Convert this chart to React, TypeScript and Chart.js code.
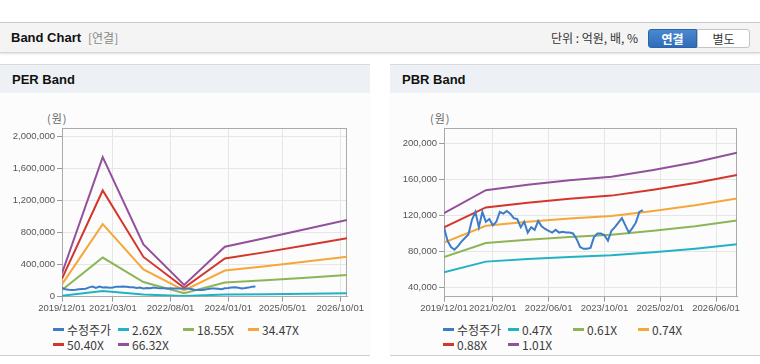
import React, { useEffect, useRef } from 'react';
import { Chart, registerables } from 'chart.js';
Chart.register(...registerables);

// ---- data ----
const BAND_DATES = ['2019/12', '2020/12', '2021/12', '2022/12', '2023/12', '2024/12', '2025/12', '2026/12'];
const PRICE_START = '2019/12';
const PRICE = [
  107000, 92000, 85000, 82000, 86000, 91000, 95000, 99000, 115000, 124000,
  107000, 124000, 113000, 116000, 109000, 113000, 124000, 122000, 125000, 122000,
  117000, 116000, 107000, 113000, 101000, 107000, 104000, 114000, 108000, 105000,
  103000, 101000, 104000, 101000, 102000, 101000, 101000, 100000, 94000, 85000,
  83000, 83000, 84000, 96000, 100000, 100000, 98000, 92000, 103000, 107000,
  112000, 117000, 109000, 101000, 106000, 112000, 124000, 126000,
];

const PER_LABELS = ['수정주가', '2.62X', '18.55X', '34.47X', '50.40X', '66.32X'];
const PER_262 = [12000, 69000, 26000, 6000, 25000, 29000, 35000, 42000];
const PER_1855 = [82000, 486000, 182000, 41000, 176000, 204000, 236000, 268000];
const PER_3447 = [152000, 903000, 338000, 76000, 325000, 379000, 438000, 497000];
const PER_5040 = [224000, 1322000, 494000, 111000, 474000, 554000, 640000, 726000];
const PER_6632 = [292000, 1738000, 650000, 146000, 622000, 730000, 842000, 955000];
const PER_X_TICKS = ['2019/12/01', '2021/03/01', '2022/08/01', '2024/01/01', '2025/05/01', '2026/10/01'];
const PER_Y_TICKS = [0, 400000, 800000, 1200000, 1600000, 2000000];

const PBR_LABELS = ['수정주가', '0.47X', '0.61X', '0.74X', '0.88X', '1.01X'];
const PBR_047 = [57000, 68800, 71600, 73900, 75800, 79300, 83200, 88100];
const PBR_061 = [74000, 89400, 93000, 96000, 98500, 103000, 108100, 114500];
const PBR_074 = [89800, 108500, 112900, 116500, 119500, 125000, 131200, 138900];
const PBR_088 = [106700, 128900, 134100, 138500, 142000, 148500, 155900, 165000];
const PBR_101 = [122500, 148000, 154000, 159000, 163000, 170500, 179000, 189500];
const PBR_X_TICKS = ['2019/12/01', '2021/02/01', '2022/06/01', '2023/10/01', '2025/02/01', '2026/06/01'];
const PBR_Y_TICKS = [40000, 80000, 120000, 160000, 200000];

const COLORS = ['#3d7cc9', '#21b3c3', '#8db556', '#f5a73a', '#d4362c', '#93509c'];

const monthIndex = (s: string) => {
  const p = s.split('/').map(Number);
  return (p[0] - 2019) * 12 + p[1] - 12;
};

const FONT = '"Liberation Sans", Arial, sans-serif';
const KFONT = '"Noto Sans CJK KR", "Liberation Sans", sans-serif';

const framePlugin = {
  id: 'frame',
  beforeDatasetsDraw(chart: any) {
    const { ctx, chartArea } = chart;
    const l = Math.round(chartArea.left) + 0.5;
    const t = Math.round(chartArea.top) + 0.5;
    const r = Math.round(chartArea.right) - 0.5;
    const b = Math.round(chartArea.bottom) - 0.5;
    ctx.save();
    ctx.strokeStyle = '#aaaaaa';
    ctx.lineWidth = 1;
    ctx.strokeRect(l, t, r - l, b - t);
    ctx.restore();
  },
};

type BandProps = {
  bands: number[][];
  yTicks: number[];
  yMin: number;
  yMax: number;
  xTicks: string[];
  yWidth: number;
};

function BandChart({ bands, yTicks, yMin, yMax, xTicks, yWidth }: BandProps) {
  const ref = useRef<HTMLCanvasElement>(null);
  useEffect(() => {
    if (!ref.current) return;
    const priceStart = monthIndex(PRICE_START);
    const bandX = BAND_DATES.map(monthIndex);
    const xVals = xTicks.map(monthIndex);
    const datasets: any[] = [
      {
        data: PRICE.map((v, i) => ({ x: priceStart + i, y: v })),
        borderColor: COLORS[0],
      },
      ...bands.map((arr, k) => ({
        data: arr.map((v, i) => ({ x: bandX[i], y: v })),
        borderColor: COLORS[k + 1],
      })),
    ].map((d) => ({ ...d, borderWidth: 2, pointRadius: 0, tension: 0, fill: false }));

    const chart = new Chart(ref.current, {
      type: 'line',
      data: { datasets },
      plugins: [framePlugin],
      options: {
        animation: false,
        responsive: false,
        maintainAspectRatio: false,
        events: [],
        layout: { padding: { top: 8, right: 23, bottom: 5, left: 0 } },
        plugins: { legend: { display: false }, tooltip: { enabled: false } },
        scales: {
          x: {
            type: 'linear',
            min: 0,
            max: 84,
            afterBuildTicks: (s: any) => {
              s.ticks = xVals.map((v) => ({ value: v }));
            },
            ticks: {
              autoSkip: false,
              maxRotation: 0,
              padding: 1,
              color: '#555',
              font: { family: FONT, size: 9.5 },
              callback: (v: any) => {
                const i = xVals.indexOf(Number(v));
                return i >= 0 ? xTicks[i] : '';
              },
            },
            grid: { color: '#e6e6e6', tickLength: 5, tickColor: '#9a9a9a' },
            border: { color: '#aaaaaa' },
          },
          y: {
            type: 'linear',
            min: yMin,
            max: yMax,
            afterBuildTicks: (s: any) => {
              s.ticks = yTicks.map((v) => ({ value: v }));
            },
            afterFit: (s: any) => {
              s.width = yWidth;
            },
            ticks: {
              padding: 2,
              color: '#555',
              font: { family: FONT, size: 9.5 },
              callback: (v: any) => Number(v).toLocaleString('en-US'),
            },
            grid: { color: '#e6e6e6', tickLength: 5, tickColor: '#9a9a9a' },
            border: { color: '#aaaaaa' },
          },
        },
      } as any,
    });
    return () => chart.destroy();
  }, []);
  return <canvas ref={ref} width={370} height={200} style={{ width: 370, height: 200, display: 'block' }} />;
}

function Legend({ labels }: { labels: string[] }) {
  return (
    <div style={{ position: 'relative', width: 300, height: 34 }}>
      {labels.map((lab, i) => {
        const row = Math.floor(i / 4);
        const col = i % 4;
        return (
          <div
            key={lab}
            style={{
              position: 'absolute',
              left: col * 65,
              top: row * 15,
              height: 15,
              display: 'flex',
              alignItems: 'center',
              whiteSpace: 'nowrap',
            }}
          >
            <span style={{ display: 'inline-block', width: 11, height: 3, background: COLORS[i], marginRight: 3 }} />
            <span style={{ fontFamily: KFONT, fontSize: 12, color: '#3a3a3a', lineHeight: '15px' }}>{lab}</span>
          </div>
        );
      })}
    </div>
  );
}

function Panel({ left, title, children }: { left: number; title: string; children: React.ReactNode }) {
  return (
    <div
      style={{
        position: 'absolute',
        left,
        top: 64,
        width: 370,
        height: 290,
        background: '#fcfcfc',
        borderTop: '1px solid #d9d9d9',
        borderBottom: '1px solid #cfcfcf',
      }}
    >
      <div
        style={{
          height: 28,
          background: '#edf1f6',
          fontFamily: FONT,
          fontWeight: 'bold',
          fontSize: 13,
          color: '#111',
          lineHeight: '30px',
          paddingLeft: 12,
        }}
      >
        {title}
      </div>
      {children}
    </div>
  );
}

export default function App() {
  return (
    <div
      style={{
        position: 'absolute',
        left: 0,
        top: 0,
        width: 760,
        height: 364,
        background: '#ffffff',
        overflow: 'hidden',
        fontFamily: FONT,
      }}
    >
      {/* header bar */}
      <div
        style={{
          position: 'absolute',
          left: 0,
          top: 22,
          width: 760,
          height: 29,
          background: '#f4f4f4',
          borderTop: '1px solid #c9c9c9',
          borderBottom: '1px solid #d6d6d6',
          boxShadow: '0 1px 2px rgba(0,0,0,0.12)',
        }}
      >
        <span style={{ position: 'absolute', left: 11, top: 7, fontWeight: 'bold', fontSize: 13, color: '#111' }}>
          Band Chart
        </span>
        <span style={{ position: 'absolute', left: 88, top: 7, fontSize: 12, color: '#888', fontFamily: KFONT, lineHeight: '16px' }}>
          [연결]
        </span>
        <span style={{ position: 'absolute', left: 551, top: 7, fontSize: 12, color: '#333', fontFamily: KFONT, lineHeight: '16px' }}>
          단위 : 억원, 배, %
        </span>
        <div
          style={{
            position: 'absolute',
            left: 648,
            top: 6,
            width: 49,
            height: 19,
            background: 'linear-gradient(#4a88d0, #2f6db8)',
            border: '1px solid #2d63a8',
            borderRadius: '3px 0 0 3px',
            color: '#fff',
            fontWeight: 'bold',
            fontSize: 12,
            fontFamily: KFONT,
            textAlign: 'center',
            lineHeight: '17px',
            boxSizing: 'border-box',
          }}
        >
          연결
        </div>
        <div
          style={{
            position: 'absolute',
            left: 697,
            top: 6,
            width: 53,
            height: 19,
            background: '#fff',
            border: '1px solid #c4c4c4',
            borderRadius: '0 3px 3px 0',
            color: '#333',
            fontSize: 12,
            fontFamily: KFONT,
            textAlign: 'center',
            lineHeight: '17px',
            boxSizing: 'border-box',
          }}
        >
          별도
        </div>
      </div>

      <Panel left={0} title="PER Band">
        <div style={{ position: 'absolute', left: 47, top: 45, fontSize: 11, color: '#666', fontFamily: KFONT, letterSpacing: 1 }}>
          (원)
        </div>
        <div style={{ position: 'absolute', left: 0, top: 55 }}>
          <BandChart
            bands={[PER_262, PER_1855, PER_3447, PER_5040, PER_6632]}
            yTicks={PER_Y_TICKS}
            yMin={0}
            yMax={2100000}
            xTicks={PER_X_TICKS}
            yWidth={62}
          />
        </div>
        <div style={{ position: 'absolute', left: 53, top: 257 }}>
          <Legend labels={PER_LABELS} />
        </div>
      </Panel>

      <Panel left={390} title="PBR Band">
        <div style={{ position: 'absolute', left: 40, top: 45, fontSize: 11, color: '#666', fontFamily: KFONT, letterSpacing: 1 }}>
          (원)
        </div>
        <div style={{ position: 'absolute', left: 0, top: 55 }}>
          <BandChart
            bands={[PBR_047, PBR_061, PBR_074, PBR_088, PBR_101]}
            yTicks={PBR_Y_TICKS}
            yMin={30000}
            yMax={217000}
            xTicks={PBR_X_TICKS}
            yWidth={54}
          />
        </div>
        <div style={{ position: 'absolute', left: 53, top: 257 }}>
          <Legend labels={PBR_LABELS} />
        </div>
      </Panel>
    </div>
  );
}
